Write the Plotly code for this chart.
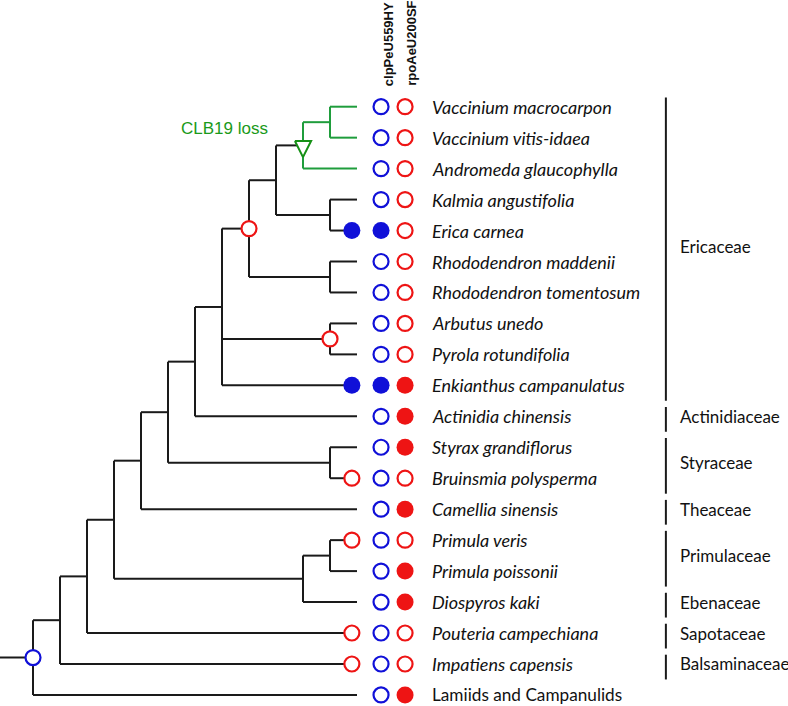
import plotly.graph_objects as go

# ---------------- data ----------------
taxa = ["Vaccinium macrocarpon", "Vaccinium vitis-idaea", "Andromeda glaucophylla",
        "Kalmia angustifolia", "Erica carnea", "Rhododendron maddenii",
        "Rhododendron tomentosum", "Arbutus unedo", "Pyrola rotundifolia",
        "Enkianthus campanulatus", "Actinidia chinensis", "Styrax grandiflorus",
        "Bruinsmia polysperma", "Camellia sinensis", "Primula veris",
        "Primula poissonii", "Diospyros kaki", "Pouteria campechiana",
        "Impatiens capensis", "Lamiids and Campanulids"]
taxa_italic = [True] * 19 + [False]

columns = ["clpPeU559HY", "rpoAeU200SF"]
clp_state = [0, 0, 0, 0, 1, 0, 0, 0, 0, 1, 0, 0, 0, 0, 0, 0, 0, 0, 0, 0]
rpo_state = [0, 0, 0, 0, 0, 0, 0, 0, 0, 1, 1, 1, 0, 1, 0, 1, 1, 0, 0, 1]

tip_marker_taxa = ["Erica carnea", "Enkianthus campanulatus", "Bruinsmia polysperma",
                   "Primula veris", "Pouteria campechiana", "Impatiens capensis"]
tip_marker_kind = ["blue_filled", "blue_filled", "red_open", "red_open", "red_open", "red_open"]

node_names = ["root", "n2", "n3", "n4", "n5", "n6", "n7", "ericaceae", "n9", "n10",
              "vacc_clade", "vacc", "kalmia_erica", "rhodo", "arb_pyr", "styr",
              "prim_eben", "primula"]
node_depth = [1, 2, 3, 4, 5, 6, 7, 8, 9, 10, 11, 12, 12, 12, 12, 12, 11, 12]
node_children = [
    ["n2", "Lamiids and Campanulids"],
    ["n3", "Impatiens capensis"],
    ["n4", "Pouteria campechiana"],
    ["n5", "prim_eben"],
    ["n6", "Camellia sinensis"],
    ["n7", "styr"],
    ["ericaceae", "Actinidia chinensis"],
    ["n9", "arb_pyr", "Enkianthus campanulatus"],
    ["n10", "rhodo"],
    ["vacc_clade", "kalmia_erica"],
    ["vacc", "Andromeda glaucophylla"],
    ["Vaccinium macrocarpon", "Vaccinium vitis-idaea"],
    ["Kalmia angustifolia", "Erica carnea"],
    ["Rhododendron maddenii", "Rhododendron tomentosum"],
    ["Arbutus unedo", "Pyrola rotundifolia"],
    ["Styrax grandiflorus", "Bruinsmia polysperma"],
    ["primula", "Diospyros kaki"],
    ["Primula veris", "Primula poissonii"],
]
tip_depth = 13
root_stub_start = -0.3
node_marker_names = ["root", "n9", "arb_pyr"]
node_marker_kind = ["blue_open", "red_open", "red_open"]
loss_clade = "vacc_clade"
loss_label = "CLB19 loss"

families = ["Ericaceae", "Actinidiaceae", "Styraceae", "Theaceae", "Primulaceae",
            "Ebenaceae", "Sapotaceae", "Balsaminaceae"]
family_first = [0, 10, 11, 13, 14, 16, 17, 18]
family_last = [9, 10, 12, 13, 15, 16, 17, 18]

# ---------------- layout constants ----------------
BLUE = "#1010d8"
RED = "#ee1414"
GREEN = "#1f9d3c"
GREEN_TXT = "#1a9a1a"
BLACK = "#1a1a1a"
TIP_MARK_X = 12.81
COL_X = [13.89, 14.78]
NAME_X = 15.72
FAM_BAR_X = 24.44
FAM_TXT_X = 24.88

# ---------------- tree geometry ----------------
row = {t: i for i, t in enumerate(taxa)}
nodes = {n: (d, c) for n, d, c in zip(node_names, node_depth, node_children)}
pos = {}


def place(name):
    if name in pos:
        return pos[name]
    if name in row:
        pos[name] = (tip_depth, row[name])
    else:
        d, ch = nodes[name]
        ys = [place(c)[1] for c in ch]
        pos[name] = (d, (min(ys) + max(ys)) / 2)
    return pos[name]


place("root")


def descendants(name):
    out = {name}
    if name in nodes:
        for c in nodes[name][1]:
            out |= descendants(c)
    return out


green_set = descendants(loss_clade)
bx, by, gx, gy = [], [], [], []
for n in node_names:
    x0, y0 = pos[n]
    ch = nodes[n][1]
    ys = [pos[c][1] for c in ch]
    tx, ty = (gx, gy) if n in green_set else (bx, by)
    tx += [x0, x0, None]
    ty += [min(ys), max(ys), None]
    for c in ch:
        cx, cy = pos[c]
        tx += [x0, cx, None]
        ty += [cy, cy, None]
bx += [root_stub_start, pos["root"][0], None]
by += [pos["root"][1], pos["root"][1], None]

fig = go.Figure()
fig.add_trace(go.Scatter(x=bx, y=by, mode="lines", line=dict(color=BLACK, width=2),
                         hoverinfo="skip", showlegend=False))
fig.add_trace(go.Scatter(x=gx, y=gy, mode="lines", line=dict(color=GREEN, width=2),
                         hoverinfo="skip", showlegend=False))

# loss triangle
lx, ly = pos[loss_clade]
fig.add_trace(go.Scatter(x=[lx - 0.3, lx + 0.3, lx, lx - 0.3],
                         y=[ly - 0.14, ly - 0.14, ly + 0.38, ly - 0.14],
                         mode="lines", fill="toself", fillcolor="white",
                         line=dict(color="#169016", width=2),
                         hoverinfo="skip", showlegend=False))


def marker_style(kind):
    color = BLUE if kind.startswith("blue") else RED
    if kind.endswith("filled"):
        return dict(symbol="circle", size=17, color=color, line=dict(color=color, width=0))
    return dict(symbol="circle", size=15, color="white", line=dict(color=color, width=2.2))


def add_markers(xs, ys, kinds):
    for kind in sorted(set(kinds)):
        sel = [i for i, k in enumerate(kinds) if k == kind]
        fig.add_trace(go.Scatter(x=[xs[i] for i in sel], y=[ys[i] for i in sel],
                                 mode="markers", marker=marker_style(kind),
                                 hoverinfo="skip", showlegend=False))


# node markers
add_markers([pos[n][0] for n in node_marker_names], [pos[n][1] for n in node_marker_names],
            node_marker_kind)
# tip markers
add_markers([TIP_MARK_X] * len(tip_marker_taxa), [row[t] for t in tip_marker_taxa],
            tip_marker_kind)
# state columns
add_markers([COL_X[0]] * len(taxa), list(range(len(taxa))),
            ["blue_filled" if s else "blue_open" for s in clp_state])
add_markers([COL_X[1]] * len(taxa), list(range(len(taxa))),
            ["red_filled" if s else "red_open" for s in rpo_state])

# family bars
fx, fy = [], []
for f0, f1 in zip(family_first, family_last):
    fx += [FAM_BAR_X, FAM_BAR_X, None]
    fy += [f0 - 0.3, f1 + 0.5, None]
fig.add_trace(go.Scatter(x=fx, y=fy, mode="lines", line=dict(color=BLACK, width=2),
                         hoverinfo="skip", showlegend=False))

annotations = []
for i, (t, it) in enumerate(zip(taxa, taxa_italic)):
    annotations.append(dict(x=NAME_X, y=i, text=f"<i>{t}</i>" if it else t,
                            xanchor="left", yanchor="middle", showarrow=False,
                            font=dict(family="Lato", size=18 if it else 17.2,
                                      color="#111111")))
for f, f0, f1 in zip(families, family_first, family_last):
    annotations.append(dict(x=FAM_TXT_X, y=(f0 + f1) / 2, text=f,
                            xanchor="left", yanchor="middle", showarrow=False,
                            font=dict(family="Lato", size=17, color="#111111")))
for cx, cname in zip(COL_X, columns):
    annotations.append(dict(x=cx + 0.26, y=-0.6, text=f"<b>{cname}</b>", textangle=-90,
                            xanchor="center", yanchor="bottom", showarrow=False,
                            font=dict(family="Liberation Sans", size=13, color="#111111")))
annotations.append(dict(x=6.42, y=0.72, text=loss_label, xanchor="left", yanchor="middle",
                        showarrow=False,
                        font=dict(family="Liberation Sans", size=17, color=GREEN_TXT)))

fig.update_layout(
    width=788, height=706, margin=dict(l=0, r=0, t=0, b=0),
    paper_bgcolor="white", plot_bgcolor="white",
    xaxis=dict(range=[-6 / 27, 782 / 27], visible=False, fixedrange=True),
    yaxis=dict(range=[(706 - 106.7) / 30.96, -106.7 / 30.96], visible=False, fixedrange=True),
    annotations=annotations,
)
fig.write_html("out.html", config={"displayModeBar": False},
               post_script="document.body.style.margin='0';document.body.style.overflow='hidden';")
